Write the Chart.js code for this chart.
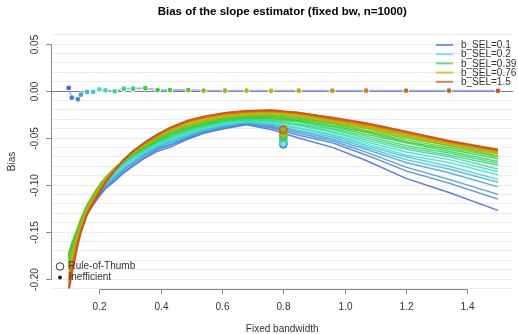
<!DOCTYPE html>
<html>
<head>
<meta charset="utf-8">
<script src="https://cdn.jsdelivr.net/npm/chart.js@4.4.1/dist/chart.umd.min.js"></script>
<style>
  html, body { margin: 0; padding: 0; background: #fff; }
  #wrap { width: 518px; height: 334px; position: relative; }
</style>
</head>
<body>
<div id="wrap"><canvas id="chart"></canvas></div>
<script>
// ---- data ----
// fixed bandwidth grid (x of every curve)
const BW = [0.1, 0.11, 0.13, 0.14, 0.16, 0.18, 0.2, 0.22, 0.25, 0.28, 0.31, 0.35, 0.39,
            0.43, 0.49, 0.54, 0.61, 0.68, 0.76, 0.85, 0.96, 1.07, 1.2, 1.34, 1.5];
// selection bandwidths, one curve / point / circle each
const B_SEL = [0.1, 0.11, 0.13, 0.14, 0.16, 0.18, 0.2, 0.22, 0.25, 0.28, 0.31, 0.35, 0.39,
               0.43, 0.49, 0.54, 0.61, 0.68, 0.76, 0.85, 0.96, 1.07, 1.2, 1.34, 1.5];
const LEGEND_IDX = [0, 6, 12, 18, 24];
const LEGEND_LABELS = ["b_SEL=0.1", "b_SEL=0.2", "b_SEL=0.39", "b_SEL=0.76", "b_SEL=1.5"];

// bias at each fixed bandwidth (row), for every b_SEL curve (column)
const BIAS_BY_BW = [
  [-0.188,-0.187,-0.186,-0.185,-0.184,-0.182,-0.181,-0.180,-0.178,-0.177,-0.176,-0.174,-0.173,-0.177,-0.181,-0.185,-0.190,-0.194,-0.198,-0.201,-0.204,-0.207,-0.210,-0.212,-0.215],
  [-0.176,-0.175,-0.174,-0.173,-0.172,-0.171,-0.170,-0.169,-0.167,-0.166,-0.165,-0.163,-0.162,-0.165,-0.168,-0.172,-0.175,-0.178,-0.181,-0.183,-0.186,-0.188,-0.191,-0.193,-0.196],
  [-0.156,-0.155,-0.154,-0.154,-0.153,-0.152,-0.151,-0.150,-0.149,-0.148,-0.147,-0.146,-0.145,-0.147,-0.148,-0.150,-0.152,-0.153,-0.155,-0.157,-0.158,-0.160,-0.161,-0.163,-0.164],
  [-0.146,-0.145,-0.144,-0.144,-0.143,-0.142,-0.141,-0.140,-0.139,-0.138,-0.138,-0.137,-0.136,-0.137,-0.139,-0.140,-0.141,-0.143,-0.144,-0.145,-0.146,-0.148,-0.149,-0.150,-0.151],
  [-0.131,-0.130,-0.130,-0.129,-0.128,-0.128,-0.127,-0.126,-0.125,-0.124,-0.123,-0.122,-0.121,-0.122,-0.123,-0.124,-0.125,-0.126,-0.127,-0.128,-0.129,-0.130,-0.130,-0.131,-0.132],
  [-0.121,-0.120,-0.119,-0.119,-0.118,-0.117,-0.116,-0.115,-0.114,-0.113,-0.112,-0.111,-0.110,-0.111,-0.112,-0.112,-0.113,-0.114,-0.115,-0.116,-0.117,-0.118,-0.118,-0.119,-0.120],
  [-0.112,-0.111,-0.110,-0.110,-0.109,-0.108,-0.107,-0.106,-0.105,-0.104,-0.102,-0.101,-0.100,-0.101,-0.101,-0.102,-0.103,-0.103,-0.104,-0.105,-0.106,-0.107,-0.107,-0.108,-0.109],
  [-0.104,-0.103,-0.102,-0.101,-0.100,-0.099,-0.098,-0.097,-0.096,-0.095,-0.094,-0.093,-0.092,-0.092,-0.093,-0.093,-0.093,-0.094,-0.094,-0.095,-0.096,-0.096,-0.097,-0.097,-0.098],
  [-0.096,-0.095,-0.093,-0.092,-0.091,-0.089,-0.088,-0.087,-0.086,-0.085,-0.084,-0.083,-0.082,-0.082,-0.082,-0.082,-0.083,-0.083,-0.083,-0.083,-0.084,-0.084,-0.084,-0.085,-0.085],
  [-0.087,-0.086,-0.084,-0.083,-0.082,-0.080,-0.079,-0.078,-0.077,-0.076,-0.076,-0.075,-0.074,-0.074,-0.074,-0.074,-0.073,-0.073,-0.073,-0.073,-0.073,-0.073,-0.073,-0.073,-0.073],
  [-0.080,-0.079,-0.077,-0.076,-0.075,-0.073,-0.072,-0.071,-0.070,-0.069,-0.069,-0.068,-0.067,-0.067,-0.066,-0.066,-0.066,-0.065,-0.065,-0.065,-0.065,-0.064,-0.064,-0.064,-0.064],
  [-0.071,-0.070,-0.068,-0.067,-0.066,-0.065,-0.064,-0.063,-0.062,-0.061,-0.061,-0.060,-0.059,-0.059,-0.058,-0.058,-0.057,-0.057,-0.056,-0.056,-0.055,-0.055,-0.055,-0.054,-0.054],
  [-0.064,-0.062,-0.061,-0.060,-0.059,-0.058,-0.057,-0.056,-0.055,-0.054,-0.054,-0.053,-0.052,-0.051,-0.051,-0.050,-0.049,-0.049,-0.048,-0.048,-0.047,-0.047,-0.047,-0.046,-0.046],
  [-0.060,-0.058,-0.057,-0.055,-0.054,-0.053,-0.052,-0.051,-0.050,-0.049,-0.048,-0.047,-0.046,-0.045,-0.044,-0.043,-0.043,-0.042,-0.041,-0.041,-0.040,-0.040,-0.040,-0.039,-0.039],
  [-0.051,-0.050,-0.049,-0.048,-0.047,-0.046,-0.045,-0.044,-0.043,-0.042,-0.041,-0.040,-0.039,-0.038,-0.037,-0.037,-0.036,-0.035,-0.034,-0.033,-0.033,-0.032,-0.032,-0.031,-0.031],
  [-0.045,-0.044,-0.043,-0.042,-0.042,-0.041,-0.040,-0.039,-0.038,-0.037,-0.037,-0.036,-0.035,-0.034,-0.033,-0.032,-0.032,-0.031,-0.030,-0.029,-0.029,-0.028,-0.028,-0.027,-0.027],
  [-0.040,-0.039,-0.038,-0.037,-0.037,-0.036,-0.035,-0.034,-0.033,-0.032,-0.032,-0.031,-0.030,-0.029,-0.029,-0.028,-0.027,-0.027,-0.026,-0.025,-0.025,-0.024,-0.024,-0.023,-0.023],
  [-0.036,-0.035,-0.035,-0.034,-0.033,-0.033,-0.032,-0.031,-0.031,-0.030,-0.029,-0.029,-0.028,-0.027,-0.027,-0.026,-0.025,-0.025,-0.024,-0.023,-0.023,-0.022,-0.022,-0.021,-0.021],
  [-0.041,-0.039,-0.038,-0.037,-0.036,-0.035,-0.034,-0.033,-0.032,-0.031,-0.030,-0.029,-0.028,-0.027,-0.026,-0.025,-0.025,-0.024,-0.023,-0.022,-0.022,-0.021,-0.021,-0.021,-0.020],
  [-0.050,-0.047,-0.045,-0.043,-0.042,-0.040,-0.039,-0.037,-0.036,-0.035,-0.033,-0.032,-0.031,-0.030,-0.029,-0.028,-0.027,-0.026,-0.025,-0.025,-0.024,-0.024,-0.023,-0.023,-0.023],
  [-0.060,-0.055,-0.053,-0.051,-0.049,-0.047,-0.046,-0.044,-0.043,-0.041,-0.040,-0.038,-0.037,-0.035,-0.034,-0.034,-0.033,-0.032,-0.031,-0.031,-0.030,-0.030,-0.029,-0.029,-0.028],
  [-0.074,-0.068,-0.065,-0.062,-0.060,-0.058,-0.056,-0.054,-0.052,-0.050,-0.048,-0.046,-0.044,-0.043,-0.042,-0.040,-0.039,-0.038,-0.038,-0.037,-0.036,-0.036,-0.035,-0.034,-0.034],
  [-0.093,-0.085,-0.081,-0.076,-0.073,-0.070,-0.068,-0.065,-0.062,-0.060,-0.058,-0.055,-0.054,-0.052,-0.050,-0.049,-0.048,-0.047,-0.046,-0.046,-0.045,-0.044,-0.044,-0.043,-0.043],
  [-0.108,-0.098,-0.094,-0.087,-0.083,-0.080,-0.076,-0.073,-0.070,-0.068,-0.066,-0.064,-0.062,-0.060,-0.058,-0.058,-0.056,-0.056,-0.055,-0.055,-0.054,-0.054,-0.054,-0.053,-0.053],
  [-0.127,-0.115,-0.110,-0.102,-0.097,-0.094,-0.089,-0.086,-0.083,-0.079,-0.077,-0.075,-0.072,-0.070,-0.069,-0.067,-0.066,-0.066,-0.065,-0.064,-0.064,-0.063,-0.063,-0.063,-0.062],
];

// rule-of-thumb bandwidth and the bias it gives, per b_SEL
const ROT_BW = 0.8;
const ROT_BIAS = [-0.057, -0.0565, -0.056, -0.0555, -0.055, -0.054, -0.053, -0.052, -0.051, -0.050,
                  -0.049, -0.048, -0.047, -0.0465, -0.046, -0.045, -0.0445, -0.044, -0.043, -0.0425,
                  -0.042, -0.042, -0.0415, -0.041, -0.041];
// "inefficient" estimator bias, at bandwidth = b_SEL
const INEFF_BIAS = [0.0032, -0.0071, -0.0088, -0.0039, -0.0010, -0.0010, 0.0018, 0.0007, -0.0003, 0.0024,
                    0.0024, 0.0029, 0.0010, 0.0010, 0.0010, 0.0003, 0.0003, 0.0003, 0.0002, 0.0003,
                    0.0003, 0.0003, 0.0003, 0.0003, 0.0002];

// ---- colours: blue -> turquoise -> green -> gold -> orange-red ----
const ANCHORS = [[65, 105, 225], [64, 224, 208], [50, 205, 50], [205, 178, 0], [208, 78, 28]];
function palette(i, alpha) {
    const s = Math.min(Math.floor(i / 6), 3);
    const t = (i - s * 6) / 6;
    const c = ANCHORS[s].map((v, j) => Math.round(v + (ANCHORS[s + 1][j] - v) * t));
    return `rgba(${c[0]},${c[1]},${c[2]},${alpha})`;
}

const FONT = "'Liberation Sans', Arial, Helvetica, sans-serif";

// R-like axes, titles and both legends
const rDecor = {
    id: "rDecor",
    beforeDatasetDraw(chart, args) {
        // h = 0 reference line, under the "inefficient" connector
        if (chart.data.datasets[args.index].label !== "ineff-line") return;
        const { ctx, chartArea: a, scales: { y } } = chart;
        const py = Math.round(y.getPixelForValue(0)) + 0.5;
        ctx.save();
        ctx.strokeStyle = "#7a7a7a";
        ctx.lineWidth = 1;
        ctx.beginPath();
        ctx.moveTo(a.left, py);
        ctx.lineTo(a.right, py);
        ctx.stroke();
        ctx.restore();
    },
    afterDraw(chart) {
        const { ctx, chartArea: a, scales: { x, y } } = chart;
        ctx.save();
        ctx.strokeStyle = "#888";
        ctx.lineWidth = 1;
        ctx.fillStyle = "#333";
        ctx.font = `10px ${FONT}`;

        // x axis
        const xt = [0.2, 0.4, 0.6, 0.8, 1.0, 1.2, 1.4];
        const ya = Math.round(a.bottom + 0.5) + 0.5;
        ctx.beginPath();
        ctx.moveTo(Math.round(x.getPixelForValue(0.2)) + 0.5, ya);
        ctx.lineTo(Math.round(x.getPixelForValue(1.4)) + 0.5, ya);
        ctx.stroke();
        ctx.textAlign = "center";
        ctx.textBaseline = "middle";
        xt.forEach(v => {
            const px = Math.round(x.getPixelForValue(v)) + 0.5;
            ctx.beginPath();
            ctx.moveTo(px, ya);
            ctx.lineTo(px, ya + 5);
            ctx.stroke();
            ctx.fillText(v.toFixed(1), px, 307);
        });
        ctx.fillText("Fixed bandwidth", (a.left + a.right) / 2, 329);

        // y axis
        const yt = [0.05, 0, -0.05, -0.1, -0.15, -0.2];
        const xa = Math.floor(a.left) + 0.5;
        ctx.beginPath();
        ctx.moveTo(xa, Math.round(y.getPixelForValue(0.05)) + 0.5);
        ctx.lineTo(xa, Math.round(y.getPixelForValue(-0.2)) + 0.5);
        ctx.stroke();
        yt.forEach(v => {
            const py = Math.round(y.getPixelForValue(v)) + 0.5;
            ctx.beginPath();
            ctx.moveTo(xa - 5.5, py);
            ctx.lineTo(xa, py);
            ctx.stroke();
            ctx.save();
            ctx.translate(35, py);
            ctx.rotate(-Math.PI / 2);
            ctx.fillText(v.toFixed(2), 0, 0);
            ctx.restore();
        });
        ctx.save();
        ctx.translate(12, (a.top + a.bottom) / 2);
        ctx.rotate(-Math.PI / 2);
        ctx.fillText("Bias", 0, 0);
        ctx.restore();

        // title
        ctx.fillStyle = "#000";
        ctx.font = `bold 11.5px ${FONT}`;
        ctx.fillText("Bias of the slope estimator (fixed bw, n=1000)", (a.left + a.right) / 2, 12);

        // top-right legend
        ctx.font = `10px ${FONT}`;
        ctx.textAlign = "left";
        LEGEND_IDX.forEach((ci, k) => {
            const ly = 45 + k * 9.2;
            ctx.strokeStyle = palette(ci, 0.7);
            ctx.lineWidth = 2;
            ctx.beginPath();
            ctx.moveTo(436, ly);
            ctx.lineTo(453, ly);
            ctx.stroke();
            ctx.fillStyle = "#333";
            ctx.fillText(LEGEND_LABELS[k], 461, ly + 0.5);
        });

        // bottom-left legend
        ctx.strokeStyle = "#333";
        ctx.lineWidth = 1;
        ctx.beginPath();
        ctx.arc(60, 266.5, 3.8, 0, Math.PI * 2);
        ctx.stroke();
        ctx.fillStyle = "#111";
        ctx.beginPath();
        ctx.arc(60, 277.5, 1.9, 0, Math.PI * 2);
        ctx.fill();
        ctx.fillStyle = "#333";
        ctx.fillText("Rule-of-Thumb", 68.5, 266.5);
        ctx.fillText("Inefficient", 68.5, 277.5);
        ctx.restore();
    },
};

const datasets = [];
B_SEL.forEach((b, i) => {
    datasets.push({
        label: `b_SEL=${b}`,
        data: BW.map((bw, k) => ({ x: bw, y: BIAS_BY_BW[k][i] })),
        borderColor: palette(i, 0.85),
        borderWidth: 1.5,
        pointRadius: 0,
        tension: 0,
        order: 3 + (24 - i),
    });
});
datasets.push({
    label: "ineff-line",
    data: B_SEL.map((b, i) => ({ x: b, y: INEFF_BIAS[i] })),
    borderColor: "rgba(125,150,235,0.7)",
    borderWidth: 2,
    pointRadius: 3.2,
    pointBackgroundColor: "#fff",
    pointBorderWidth: 0,
    tension: 0,
    order: 2,
});
datasets.push({
    label: "Rule-of-Thumb",
    data: ROT_BIAS.map(v => ({ x: ROT_BW, y: v })),
    showLine: false,
    pointRadius: 3.8,
    pointBorderWidth: 1,
    pointBackgroundColor: "rgba(0,0,0,0)",
    pointBorderColor: B_SEL.map((_, i) => palette(i, 0.8)),
    order: 1,
});
datasets.push({
    label: "Inefficient",
    data: B_SEL.map((b, i) => ({ x: b, y: INEFF_BIAS[i] })),
    showLine: false,
    pointRadius: 2.4,
    pointBorderWidth: 0,
    pointBackgroundColor: B_SEL.map((_, i) => palette(i, 1)),
    order: 0,
});

new Chart(document.getElementById("chart"), {
    type: "line",
    data: { datasets },
    options: {
        responsive: true,
        maintainAspectRatio: false,
        animation: false,
        devicePixelRatio: 1,
        layout: { padding: { top: 34.6, left: 0, right: 0, bottom: 0 } },
        plugins: { legend: { display: false }, tooltip: { enabled: false } },
        scales: {
            x: {
                type: "linear",
                min: 0.044,
                max: 1.549,
                grid: { display: false },
                border: { display: false },
                ticks: { display: false },
                afterFit: s => { s.height = 45.6; },
            },
            y: {
                type: "linear",
                min: -0.21,
                max: 0.06,
                grid: {
                    color: c => Math.abs(c.tick.value) < 1e-9 ? "rgba(0,0,0,0)" : "#ececec",
                    drawTicks: false,
                },
                border: { display: false },
                ticks: { display: false, stepSize: 0.01 },
                afterFit: s => { s.width = 51.5; },
            },
        },
    },
    plugins: [rDecor],
});
</script>
</body>
</html>
